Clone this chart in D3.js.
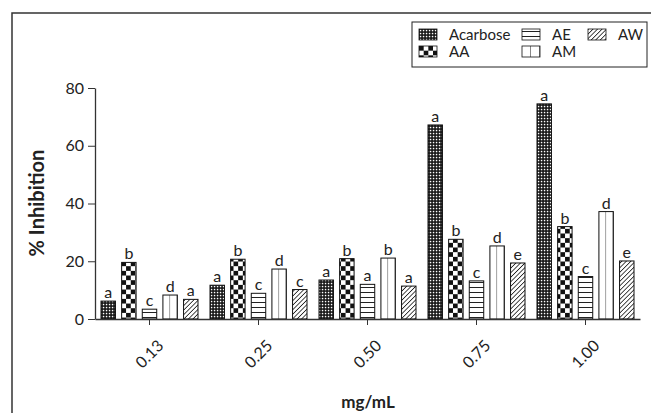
<!DOCTYPE html>
<html>
<head>
<meta charset="utf-8">
<script src="https://cdn.jsdelivr.net/npm/d3@7"></script>
<style>
  html, body { margin: 0; padding: 0; background: #fff; }
  svg { display: block; font-family: Lato, "Open Sans", sans-serif; }
</style>
</head>
<body>
<svg id="chart" width="651" height="413"></svg>
<script>
// Concentrations (mg/mL) on the x axis
const doses = ["0.13", "0.25", "0.50", "0.75", "1.00"];
// Extracts / reference drug
const series = ["Acarbose", "AA", "AE", "AM", "AW"];
// % inhibition per extract, one value per concentration
const acarbose = [6.2, 11.7, 13.5, 67.2, 74.5];
const aa = [19.6, 20.7, 20.9, 27.6, 32.0];
const ae = [3.4, 8.9, 12.0, 13.2, 14.7];
const am = [8.3, 17.3, 21.1, 25.3, 37.2];
const aw = [6.8, 10.2, 11.4, 19.4, 20.1];
// Significance letters per extract
const lettersAcarbose = ["a", "a", "a", "a", "a"];
const lettersAA = ["b", "b", "b", "b", "b"];
const lettersAE = ["c", "c", "a", "c", "c"];
const lettersAM = ["d", "d", "b", "d", "d"];
const lettersAW = ["a", "c", "a", "e", "e"];
const yTicks = [0, 20, 40, 60, 80];

const valuesBySeries = [acarbose, aa, ae, am, aw];
const lettersBySeries = [lettersAcarbose, lettersAA, lettersAE, lettersAM, lettersAW];

const svg = d3.select("#chart");

// ----- fill patterns -----
const defs = svg.append("defs");
// fine dots: black ground with small white dots
const pDots = defs.append("pattern").attr("id", "pat-Acarbose")
  .attr("patternUnits", "userSpaceOnUse").attr("width", 3).attr("height", 3);
pDots.append("rect").attr("width", 3).attr("height", 3).attr("fill", "#111");
pDots.append("rect").attr("x", 0.8).attr("y", 0.8).attr("width", 1.5).attr("height", 1.5).attr("fill", "#fff");
// checkerboard
const cs = 4.67;
const pChk = defs.append("pattern").attr("id", "pat-AA")
  .attr("patternUnits", "userSpaceOnUse").attr("width", cs * 2).attr("height", cs * 2);
pChk.append("rect").attr("width", cs * 2).attr("height", cs * 2).attr("fill", "#fff");
pChk.append("rect").attr("width", cs).attr("height", cs).attr("fill", "#111");
pChk.append("rect").attr("x", cs).attr("y", cs).attr("width", cs).attr("height", cs).attr("fill", "#111");
// horizontal lines
const pH = defs.append("pattern").attr("id", "pat-AE")
  .attr("patternUnits", "userSpaceOnUse").attr("width", 10).attr("height", 5);
pH.append("rect").attr("width", 10).attr("height", 5).attr("fill", "#fff");
pH.append("line").attr("x1", 0).attr("x2", 10).attr("y1", 2.5).attr("y2", 2.5)
  .attr("stroke", "#222").attr("stroke-width", 1);
// vertical lines
const pV = defs.append("pattern").attr("id", "pat-AM")
  .attr("patternUnits", "objectBoundingBox").attr("width", 0.5).attr("height", 1)
  .attr("patternContentUnits", "objectBoundingBox");
pV.append("rect").attr("width", 0.5).attr("height", 1).attr("fill", "#fff");
pV.append("rect").attr("x", 0.47).attr("width", 0.06).attr("height", 1).attr("fill", "#222");
// diagonal hatch
const pD = defs.append("pattern").attr("id", "pat-AW")
  .attr("patternUnits", "userSpaceOnUse").attr("width", 3.2).attr("height", 3.2)
  .attr("patternTransform", "rotate(45)");
pD.append("rect").attr("width", 3.2).attr("height", 3.2).attr("fill", "#fff");
pD.append("line").attr("x1", 0).attr("x2", 0).attr("y1", 0).attr("y2", 3.2)
  .attr("stroke", "#111").attr("stroke-width", 1.5);

// ----- outer frame -----
svg.append("path").attr("d", "M12,413 V13 H651")
  .attr("fill", "none").attr("stroke", "#333").attr("stroke-width", 1.5);

// ----- scales -----
const plot = { left: 95, right: 640, top: 88, bottom: 319 };
const x = d3.scaleBand().domain(doses).range([plot.left, plot.right]);
const xs = d3.scaleBand().domain(series).range([6, 103]).paddingInner(0.3).paddingOuter(0);
const y = d3.scaleLinear().domain([0, 80]).range([plot.bottom, plot.top]);

// ----- bars -----
const rows = [];
series.forEach((s, si) => doses.forEach((d, di) => {
  rows.push({ s, d, v: valuesBySeries[si][di], letter: lettersBySeries[si][di] });
}));

const g = svg.append("g");
g.selectAll("rect.bar").data(rows).join("rect")
  .attr("class", "bar")
  .attr("x", r => x(r.d) + xs(r.s))
  .attr("y", r => y(r.v))
  .attr("width", xs.bandwidth())
  .attr("height", r => y(0) - y(r.v))
  .attr("fill", r => `url(#pat-${r.s})`)
  .attr("stroke", "#111").attr("stroke-width", 1);

g.selectAll("text.letter").data(rows).join("text")
  .attr("class", "letter")
  .attr("x", r => x(r.d) + xs(r.s) + xs.bandwidth() / 2)
  .attr("y", r => y(r.v) - 3)
  .attr("text-anchor", "middle")
  .attr("font-size", 16).attr("fill", "#222")
  .text(r => r.letter);

// ----- axes -----
const yAxis = svg.append("g").attr("transform", `translate(${plot.left},0)`)
  .call(d3.axisLeft(y).tickValues(yTicks).tickSize(7).tickPadding(4).tickSizeOuter(0));
yAxis.select(".domain").attr("stroke", "#333").attr("stroke-width", 1.3);
yAxis.selectAll(".tick line").attr("stroke", "#333");
yAxis.selectAll(".tick text").attr("font-size", 16).attr("fill", "#222")
  .attr("font-family", "Lato, sans-serif");

const xAxis = svg.append("g").attr("transform", `translate(0,${plot.bottom})`)
  .call(d3.axisBottom(x).tickSize(6).tickSizeOuter(0));
xAxis.select(".domain").attr("stroke", "#333").attr("stroke-width", 1.3);
xAxis.selectAll(".tick line").attr("stroke", "#333");
xAxis.selectAll(".tick text")
  .attr("font-size", 16).attr("fill", "#222").attr("font-family", "Lato, sans-serif")
  .attr("text-anchor", "middle")
  .attr("y", 0).attr("dy", "0.35em")
  .attr("transform", "translate(0,35) rotate(-45)");

// axis titles
svg.append("text")
  .attr("transform", "translate(44,203) rotate(-90)")
  .attr("text-anchor", "middle")
  .attr("font-size", 20).attr("font-weight", "bold").attr("fill", "#222")
  .text("% Inhibition");
svg.append("text")
  .attr("x", 368).attr("y", 408)
  .attr("text-anchor", "middle")
  .attr("font-size", 17).attr("font-weight", "bold").attr("fill", "#222")
  .text("mg/mL");

// ----- legend -----
const legend = svg.append("g");
legend.append("rect").attr("x", 412).attr("y", 22).attr("width", 235).attr("height", 45)
  .attr("fill", "#fff").attr("stroke", "#222").attr("stroke-width", 1);
const legendPos = [
  { s: "Acarbose", x: 419, y: 29 },
  { s: "AE", x: 522, y: 29 },
  { s: "AW", x: 588, y: 29 },
  { s: "AA", x: 419, y: 46 },
  { s: "AM", x: 522, y: 46 }
];
const li = legend.selectAll("g.item").data(legendPos).join("g")
  .attr("class", "item").attr("transform", p => `translate(${p.x},${p.y})`);
li.append("rect").attr("width", 18).attr("height", 11)
  .attr("fill", p => `url(#pat-${p.s})`).attr("stroke", "#111").attr("stroke-width", 0.8);
li.append("text").attr("x", 30).attr("y", 6).attr("dy", "0.35em")
  .attr("font-size", 15).attr("fill", "#222").text(p => p.s);
</script>
</body>
</html>
